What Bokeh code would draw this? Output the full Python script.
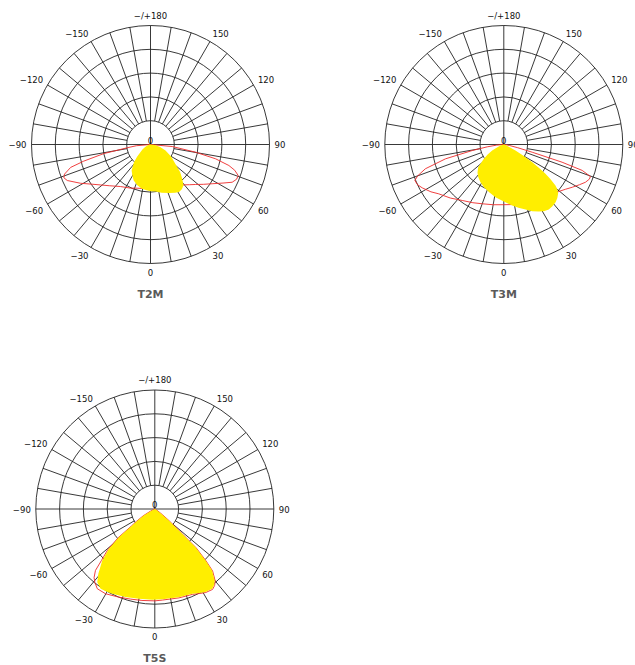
import math
from bokeh.plotting import figure
from bokeh.models import Range1d
from bokeh.embed import file_html
from bokeh.resources import INLINE
from bokeh.core.properties import value

# ---------------- data (intensity, arbitrary units; each ring = 100) ----------------
ring_values = [100, 200, 300, 400, 500]
r_max = 500
spoke_angles = list(range(-170, 190, 10))
tick_angles = [0, 30, 60, 90, 120, 150, 180, -150, -120, -90, -60, -30]
tick_labels = ["0", "30", "60", "90", "120", "150", "−/+180", "−150", "−120", "−90", "−60", "−30"]
center_label = "0"
titles = ["T2M", "T3M", "T5S"]

# T2M
t2m_red_angles = [-90, -85, -82, -79, -76, -74, -71, -69, -66.6, -61, -56, -51, -45, -35.5, -25, -17, -8, 0,
                  8, 17, 25, 33, 39.6, 44, 48.4, 53, 57.5, 62, 65.2, 68, 70.5, 73, 75, 77.6, 80.3, 84.7, 90]
t2m_red_values = [0, 60, 99, 200, 289, 349, 382, 390, 381, 336, 298, 270, 245, 217, 202, 192, 187, 185,
                  187, 191, 198, 208, 220, 235, 253, 278, 307, 345, 378, 390, 391, 370, 341, 280, 192, 92, 0]
t2m_yel_angles = [-90, -80, -73, -65, -58, -52, -48, -43, -36, -30, -25, -18, -11, -5, 0, 6, 13, 21, 27, 31,
                  35, 39, 43, 47, 52, 60, 68, 75, 82, 90]
t2m_yel_values = [0, 3, 12, 25, 40, 55, 75, 102, 135, 152, 167, 180, 189, 193, 196, 199, 208, 218, 228, 233,
                  230, 220, 195, 170, 133, 100, 68, 42, 18, 0]

# T3M
t3m_red_angles = [-90, -85, -82, -79.2, -76.2, -72.8, -70, -68, -65, -62, -57, -52.8, -45, -36.6, -28, -20, -10, 0,
                  10, 20, 30, 40, 49.5, 54, 58, 62, 65.2, 68, 69.7, 71.7, 73.1, 74.8, 77, 80, 85, 90]
t3m_red_values = [0, 30, 70, 135, 252, 345, 385, 403, 400, 388, 365, 343, 318, 293, 277, 265, 257, 253,
                  256, 263, 275, 290, 304, 320, 339, 360, 378, 388, 388, 347, 256, 124, 60, 25, 8, 0]
t3m_yel_angles = [-90, -80, -72, -66, -62.6, -58, -54.4, -48.4, -43, -38, -32, -25, -17, -9, 0, 7.8, 13, 18.5,
                  23, 27.6, 31, 34.7, 38, 41.9, 45, 47.8, 50, 51.6, 53.3, 54.9, 56.5, 58.1, 60.5, 62.9, 66, 72, 80, 90]
t3m_yel_values = [0, 4, 15, 35, 55, 80, 103, 144, 162, 174, 186, 198, 210, 224, 240, 259, 273, 288,
                  305, 318, 327, 332, 330, 326, 318, 308, 295, 277, 245, 214, 178, 141, 95, 55, 25, 8, 2, 0]

# T5S
t5s_red_angles = [-90, -70, -63, -59.4, -56, -53.9, -51.9, -49.1, -46, -44, -41.5, -39.3, -35.8, -30.2, -22.2,
                  -15, -8, 0, 4.7, 15.2, 23.8, 28, 31.4, 35.7, 38, 40, 43, 44.6, 46.8, 47.9, 50.6, 53, 57, 65, 90]
t5s_red_values = [0, 3, 22, 57, 93, 122, 196, 262, 312, 359, 385, 398, 413, 412, 400,
                  392, 388, 386, 384, 387, 392, 402, 411, 416, 408, 395, 356, 307, 238, 158, 79, 42, 16, 3, 0]
t5s_yel_angles = [-90, -70, -63, -59.4, -56, -53.9, -51.9, -49.1, -45.6, -41.1, -38.2, -34.2, -30, -26.7, -18.4,
                  -10.1, -1.6, 4.7, 15.2, 23.8, 28, 31.4, 35.7, 38, 40, 43, 44.6, 46.8, 47.9, 50.6, 53, 57, 65, 90]
t5s_yel_values = [0, 2, 20, 54, 90, 118, 192, 256, 309, 361, 391, 405, 402, 399, 390,
                  383, 381, 381, 384, 389, 400, 409, 413, 405, 392, 353, 304, 235, 155, 76, 40, 15, 3, 0]

# ---------------- layout / style ----------------
W, H = 635, 665
panel_centers = [(150.0, 144.0), (503.3, 144.0), (154.3, 508.5)]
R_px = 119.0
scale = R_px / r_max
label_r_px = 124.0
title_dy = 149.5
grid_color = "#222222"
red_color = "#ee2a2a"
yellow = "#ffee00"
font = "DejaVu Sans"

curves = [
    (t2m_red_angles, t2m_red_values, t2m_yel_angles, t2m_yel_values),
    (t3m_red_angles, t3m_red_values, t3m_yel_angles, t3m_yel_values),
    (t5s_red_angles, t5s_red_values, t5s_yel_angles, t5s_yel_values),
]

# label alignment by direction (text pushed outward from its anchor)
label_align = []
label_base = []
for a in tick_angles:
    s, c = math.sin(math.radians(a)), math.cos(math.radians(a))
    label_align.append("left" if s > 0.3 else ("right" if s < -0.3 else "center"))
    label_base.append("top" if c > 0.3 else ("bottom" if c < -0.3 else "middle"))

p = figure(width=W, height=H, output_backend="svg", toolbar_location=None,
           x_range=Range1d(0, W), y_range=Range1d(H, 0),
           min_border=0, min_border_left=0, min_border_right=0, min_border_top=0, min_border_bottom=0)
p.axis.visible = False
p.grid.visible = False
p.outline_line_color = None
p.background_fill_color = "white"
p.border_fill_color = "white"


def to_xy(cx, cy, angles, values):
    xs, ys = [], []
    for a, v in zip(angles, values):
        t = math.radians(a)
        xs.append(cx + scale * v * math.sin(t))
        ys.append(cy + scale * v * math.cos(t))
    return xs, ys


for (cx, cy), (ra, rv, ya, yv), title in zip(panel_centers, curves, titles):
    # rings
    p.circle(x=[cx] * len(ring_values), y=[cy] * len(ring_values),
             radius=[scale * v for v in ring_values],
             fill_color=None, line_color=grid_color, line_width=0.9)
    # spokes
    sx, sy = [], []
    for a in spoke_angles:
        r0 = 0 if a % 90 == 0 else ring_values[0]
        x, y = to_xy(cx, cy, [a, a], [r0, r_max])
        sx.append(x)
        sy.append(y)
    p.multi_line(xs=sx, ys=sy, line_color=grid_color, line_width=0.9)
    # red curve
    x, y = to_xy(cx, cy, ra, rv)
    p.line(x, y, line_color=red_color, line_width=0.9)
    # yellow curve
    x, y = to_xy(cx, cy, ya, yv)
    p.patch(x, y, fill_color=yellow, line_color=None)
    # tick labels
    lx, ly = to_xy(cx, cy, tick_angles, [label_r_px / scale] * len(tick_angles))
    for xx, yy, t, al, bl in zip(lx, ly, tick_labels, label_align, label_base):
        p.text(x=[xx], y=[yy], text=[t], text_align=al, text_baseline=bl,
               text_font=value(font), text_font_size="8.5px", text_color="#111111")
    p.text(x=[cx], y=[cy - 4.5], text=[center_label], text_align="center", text_baseline="middle",
           text_font=value(font), text_font_size="8.5px", text_color="#111111")
    p.text(x=[cx], y=[cy + title_dy], text=[title], text_align="center", text_baseline="middle",
           text_font=value(font), text_font_size="11px", text_font_style="bold", text_color="#5a5a5a")

open("out.html", "w").write(file_html(p, INLINE))
